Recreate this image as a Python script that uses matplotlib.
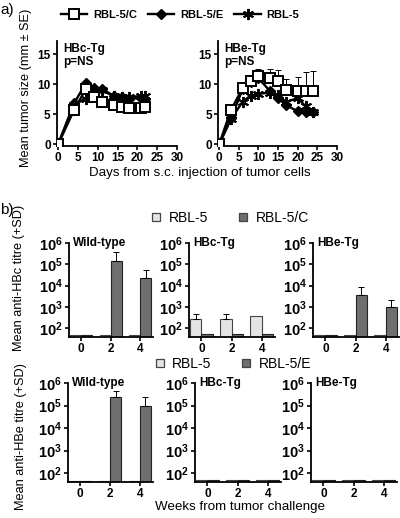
import numpy as np
import matplotlib
matplotlib.use("Agg")
import matplotlib.pyplot as plt
from matplotlib.lines import Line2D

plt.rcParams['font.family'] = ['Liberation Sans', 'DejaVu Sans']
plt.rcParams['mathtext.fontset'] = 'custom'
plt.rcParams['mathtext.rm'] = 'Liberation Sans'
plt.rcParams['mathtext.bf'] = 'Liberation Sans:bold'

# ---- panel a data: mean tumor size ----
days_hbc = [0, 4, 7, 9, 11, 14, 16, 18, 21, 22]
hbc_rbl5c = [0, 5.7, 9.2, 7.9, 7.1, 6.5, 6.2, 6.0, 6.1, 6.2]
hbc_rbl5e = [0, 6.8, 10.2, 9.4, 9.2, 8.1, 7.9, 7.6, 7.7, 7.6]
hbc_rbl5 = [0, 6.6, 7.6, 9.0, 9.0, 8.0, 7.9, 7.9, 8.0, 8.1]

days_hbe = [0, 3, 6, 8, 10, 13, 15, 17, 20, 22, 24]
hbe_rbl5c = [0, 5.7, 9.4, 10.6, 11.4, 11.0, 10.5, 9.0, 8.8, 8.9, 8.9]
hbe_rbl5c_se = [0, 0, 0, 0, 1.1, 1.6, 1.8, 1.8, 2.4, 3.1, 3.3]
hbe_rbl5e = [0, 4.3, 9.2, 10.4, 11.0, 8.8, 7.7, 6.5, 5.5, 5.4, 5.3]
hbe_rbl5 = [0, 4.2, 7.1, 8.1, 8.4, 8.6, 8.2, 7.0, 7.7, 6.3, 5.4]

# ---- panel b data: antibody titres (rows: wild-type, HBc-Tg, HBe-Tg) ----
weeks = [0, 2, 4]
groups = ['Wild-type', 'HBc-Tg', 'HBe-Tg']
antihbc_rbl5 = [[45, 45, 45], [265, 265, 350], [48, 48, 48]]
antihbc_rbl5c = [[45, 1.4e5, 2.3e4], [55, 55, 55], [48, 3500, 930]]
antihbc_rbl5_top = [[0, 0, 0], [460, 460, 0], [0, 0, 0]]
antihbc_rbl5c_top = [[0, 3.6e5, 5.6e4], [0, 0, 0], [0, 8700, 2100]]

antihbe_rbl5 = [[45, 45, 45], [48, 48, 48], [48, 48, 48]]
antihbe_rbl5e = [[45, 2.5e5, 1.0e5], [48, 48, 48], [48, 48, 48]]
antihbe_rbl5_top = [[0, 0, 0], [0, 0, 0], [0, 0, 0]]
antihbe_rbl5e_top = [[0, 4.2e5, 2.5e5], [0, 0, 0], [0, 0, 0]]

W, H = 400, 518
fig = plt.figure(figsize=(W / 100, H / 100), dpi=100)


def rect(l, t, r, b):
    return [l / W, 1 - b / H, (r - l) / W, (b - t) / H]


def style(ax):
    for s in ['top', 'right']:
        ax.spines[s].set_visible(False)
    for s in ['left', 'bottom']:
        ax.spines[s].set_linewidth(1.3)
    ax.tick_params(width=1.2, length=3, labelsize=8.5, pad=1.5)
    for lab in ax.get_xticklabels() + ax.get_yticklabels():
        lab.set_fontweight('bold')


sq = dict(color='black', lw=1.7, marker='s', ms=6.8, mfc='white', mec='black', mew=1.4)
di = dict(color='black', lw=1.7, marker='D', ms=4.8, mfc='black', mec='black')
st = dict(color='black', lw=1.7, marker=(6, 2, 0), ms=8, mew=1.4)

# panel a left
ax = fig.add_axes(rect(57, 41, 177, 146))
ax.plot(days_hbc, hbc_rbl5, **st, zorder=3)
ax.plot(days_hbc, hbc_rbl5e, **di, zorder=4)
ax.plot(days_hbc, hbc_rbl5c, **sq, zorder=5)
ax.set_xlim(-0.3, 30)
ax.set_ylim(-0.3, 17.2)
ax.set_xticks(range(0, 31, 5))
ax.set_yticks([0, 5, 10, 15])
style(ax)
ax.text(0.05, 0.98, 'HBc-Tg\np=NS', transform=ax.transAxes, va='top', ha='left',
        fontsize=8.5, fontweight='bold', linespacing=1.1)

# panel a right
ax = fig.add_axes(rect(218, 41, 337, 146))
ax.errorbar(days_hbe, hbe_rbl5c, yerr=[np.zeros(len(hbe_rbl5c_se)), hbe_rbl5c_se],
            fmt='none', ecolor='black', elinewidth=0.7, capsize=2.5, capthick=0.7, zorder=2)
ax.plot(days_hbe, hbe_rbl5, **st, zorder=3)
ax.plot(days_hbe, hbe_rbl5e, **di, zorder=4)
ax.plot(days_hbe, hbe_rbl5c, **sq, zorder=5)
ax.set_xlim(-0.3, 30)
ax.set_ylim(-0.3, 17.2)
ax.set_xticks(range(0, 31, 5))
ax.set_yticks([0, 5, 10, 15])
style(ax)
ax.text(0.05, 0.98, 'HBe-Tg\np=NS', transform=ax.transAxes, va='top', ha='left',
        fontsize=8.5, fontweight='bold', linespacing=1.1)

fig.text(0.0, 1 - 10 / H, 'a)', fontsize=11, va='center', ha='left')
fig.text(26 / W, 1 - 88 / H, 'Mean tumor size (mm ± SE)', rotation=90, fontsize=9.2,
         va='center', ha='center')
fig.text(200 / W, 1 - 173 / H, 'Days from s.c. injection of tumor cells', fontsize=9.6,
         va='center', ha='center')

handles = [Line2D([], [], **sq), Line2D([], [], **di), Line2D([], [], **st)]
fig.legend(handles, ['RBL-5/C', 'RBL-5/E', 'RBL-5'], loc='center',
           bbox_to_anchor=(180 / W, 1 - 15 / H), ncol=3, frameon=False,
           handlelength=2.4, handletextpad=0.5, columnspacing=1.0,
           prop={'weight': 'bold', 'size': 8})

# panel b
top_rects = [rect(69, 243, 153, 337), rect(189, 243, 275, 337), rect(313, 243, 399, 337)]
bot_rects = [rect(68, 383, 153, 482), rect(195, 383, 281, 482), rect(311, 383, 397, 482)]
light = '#e4e4e4'
dark = '#6f6f6f'
bw = 0.75


def bar_panel(r, light_vals, dark_vals, light_top, dark_top, title, ymin):
    ax = fig.add_axes(r)
    x = np.array(weeks, dtype=float)
    ax.bar(x, light_vals, width=-bw, align='edge', color=light, edgecolor='#444444',
           linewidth=0.8, zorder=2)
    ax.bar(x, dark_vals, width=bw, align='edge', color=dark, edgecolor='#222222',
           linewidth=0.8, zorder=2)
    for xs, vals, tops in [(x - bw / 2, light_vals, light_top), (x + bw / 2, dark_vals, dark_top)]:
        for xi, v, t in zip(xs, vals, tops):
            if t > v:
                ax.errorbar([xi], [v], yerr=[[0], [t - v]], fmt='none', ecolor='black',
                            elinewidth=0.7, capsize=2.5, capthick=0.7, zorder=3)
    ax.set_yscale('log')
    ax.set_ylim(ymin, 1e6)
    ax.set_xlim(-0.82, 4.88)
    ax.set_xticks(weeks)
    ax.set_yticks([1e2, 1e3, 1e4, 1e5, 1e6])
    ax.set_yticklabels([r'$\mathbf{10^{%d}}$' % k for k in range(2, 7)])
    ax.minorticks_off()
    style(ax)
    ax.tick_params(axis='y', labelsize=10.5)
    ax.text(0.05, 1.0, title, transform=ax.transAxes, va='center', ha='left',
            fontsize=8.5, fontweight='bold')
    return ax


for i in range(3):
    bar_panel(top_rects[i], antihbc_rbl5[i], antihbc_rbl5c[i], antihbc_rbl5_top[i],
              antihbc_rbl5c_top[i], groups[i], 38)
    bar_panel(bot_rects[i], antihbe_rbl5[i], antihbe_rbl5e[i], antihbe_rbl5_top[i],
              antihbe_rbl5e_top[i], groups[i], 40)

fig.text(0.0, 1 - 210 / H, 'b)', fontsize=11, va='center', ha='left')
fig.text(19 / W, 1 - 278 / H, 'Mean anti-HBc titre (+SD)', rotation=90, fontsize=9.2,
         va='center', ha='center')
fig.text(21 / W, 1 - 436 / H, 'Mean anti-HBe titre (+SD)', rotation=90, fontsize=9.2,
         va='center', ha='center')
fig.text(240 / W, 1 - 507 / H, 'Weeks from tumor challenge', fontsize=9.6,
         va='center', ha='center')

sl = dict(marker='s', ls='none', ms=5.5, mec='#444444', mew=0.9)
for y, xc, lab in [(218, 229, 'RBL-5/C'), (364, 232, 'RBL-5/E')]:
    hs = [Line2D([], [], mfc=light, **sl), Line2D([], [], mfc=dark, **sl)]
    fig.legend(hs, ['RBL-5', lab], loc='center', bbox_to_anchor=(xc / W, 1 - y / H),
               ncol=2, frameon=False, fontsize=10, handlelength=1.0, handletextpad=0.4,
               columnspacing=2.0)

fig.savefig('out.png', dpi=100)
